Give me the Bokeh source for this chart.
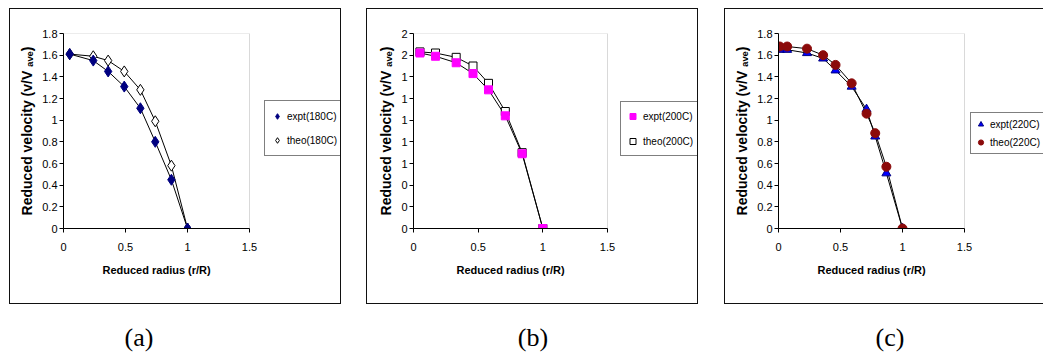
from bokeh.plotting import figure
from bokeh.models import (Legend, LegendItem, Range1d, FixedTicker, Spacer, Div,
                          BoxAnnotation, Title)
from bokeh.layouts import row, column
from bokeh.embed import file_html
from bokeh.resources import INLINE

# ---------------- data ----------------
x_ticks = [0, 0.5, 1, 1.5]
x_tick_labels = ["0", "0.5", "1", "1.5"]
y_ticks = [0, 0.2, 0.4, 0.6, 0.8, 1.0, 1.2, 1.4, 1.6, 1.8]
y_tick_labels_ac = ["0", "0.2", "0.4", "0.6", "0.8", "1", "1.2", "1.4", "1.6", "1.8"]
y_tick_labels_b = ["0", "0", "0", "1", "1", "1", "1", "1", "2", "2"]

# (a) 180C
a_x = [0.05, 0.24, 0.36, 0.49, 0.62, 0.74, 0.87, 1.0]
a_expt = [1.61, 1.55, 1.45, 1.31, 1.11, 0.80, 0.45, 0.0]
a_theo = [1.61, 1.59, 1.55, 1.45, 1.28, 0.99, 0.58, 0.0]

# (b) 200C
b_x = [0.05, 0.17, 0.33, 0.46, 0.58, 0.71, 0.84, 1.0]
b_expt = [1.62, 1.59, 1.53, 1.43, 1.28, 1.04, 0.69, 0.0]
b_theo = [1.63, 1.62, 1.58, 1.50, 1.34, 1.08, 0.70, 0.0]

# (c) 220C
c_x = [0.01, 0.07, 0.23, 0.36, 0.46, 0.59, 0.71, 0.78, 0.87, 1.0]
c_expt = [1.65, 1.65, 1.62, 1.57, 1.46, 1.31, 1.10, 0.85, 0.51, 0.0]
c_theo = [1.68, 1.68, 1.66, 1.60, 1.51, 1.34, 1.06, 0.88, 0.57, 0.0]

captions = ["(a)", "(b)", "(c)"]
x_label = "Reduced radius (r/R)"
y_label = "Reduced velocity (v/V \u2090\u1d65\u2091)"

FONT = "Liberation Sans"
X_MAX = x_ticks[-1]
Y_MAX = y_ticks[-1]


def make_panel(width, left, plot_w, y_labels, xlabel_offset):
    # the frame reaches the right edge of the panel so the legend can sit there;
    # the visible plot area (0..1.5) is plot_w pixels wide
    frame_w = width - left
    x_end = X_MAX * frame_w / plot_w
    p = figure(width=width, height=294, output_backend="svg", toolbar_location=None,
               x_range=Range1d(0, x_end), y_range=Range1d(0, Y_MAX),
               min_border_left=left, min_border_right=0,
               min_border_top=24, min_border_bottom=75,
               styles={"outline": "1.5px solid #111111"})
    p.grid.visible = False
    p.outline_line_color = None
    p.background_fill_color = "white"
    p.border_fill_color = "white"
    p.add_layout(BoxAnnotation(left=0, right=X_MAX, bottom=0, top=Y_MAX,
                               fill_alpha=0, line_color="#808080", line_width=1,
                               level="underlay"))
    xa = p.xaxis[0]
    ya = p.yaxis[0]
    xa.ticker = FixedTicker(ticks=x_ticks)
    xa.major_label_overrides = {t: l for t, l in zip(x_ticks, x_tick_labels)}
    xa.bounds = (0, X_MAX)
    ya.ticker = FixedTicker(ticks=y_ticks)
    ya.major_label_overrides = {t: l for t, l in zip(y_ticks, y_labels)}
    for ax in (xa, ya):
        ax.axis_line_color = "black"
        ax.axis_line_width = 1
        ax.major_tick_line_color = "black"
        ax.minor_tick_line_color = None
        ax.major_tick_out = 4
        ax.major_tick_in = 0
        ax.major_label_text_font = FONT
        ax.major_label_text_font_size = "11px"
        ax.major_label_text_color = "black"
        ax.axis_label_text_font = FONT
        ax.axis_label_text_font_style = "bold"
        ax.axis_label_text_color = "black"
    xa.major_label_standoff = 10
    ya.axis_label = y_label
    ya.axis_label_text_font_size = "14px"
    ya.major_label_standoff = 2
    ya.axis_label_standoff = 4
    # x-axis title centred under the 0..1.5 plot area
    p.add_layout(Title(text=x_label, align="left", offset=xlabel_offset,
                       text_font=FONT, text_font_size="11px", text_font_style="bold",
                       text_color="black", standoff=17), "below")
    return p


def style_legend(leg, gw, gh, lh, pad, sp, fs="10px"):
    leg.border_line_color = "black"
    leg.border_line_width = 1
    leg.background_fill_color = "white"
    leg.background_fill_alpha = 1
    leg.label_text_font = FONT
    leg.label_text_font_size = fs
    leg.label_text_color = "black"
    leg.glyph_width = gw
    leg.glyph_height = gh
    leg.label_height = lh
    leg.padding = pad
    leg.spacing = sp
    leg.margin = 0
    leg.label_standoff = 3


# ---------- panel (a) ----------
pa = make_panel(330, 53, 186, y_tick_labels_ac, 39)
pa.line(a_x, a_theo, line_color="black", line_width=1)
pa.line(a_x, a_expt, line_color="black", line_width=1)
ra_t = pa.scatter(a_x, a_theo, marker="diamond", size=11, fill_color="white", line_color="black")
ra_e = pa.scatter(a_x, a_expt, marker="diamond", size=11, fill_color="#000080", line_color="#000080")
leg_a = Legend(items=[LegendItem(label="expt(180C)", renderers=[ra_e]),
                      LegendItem(label="theo(180C)", renderers=[ra_t])],
               location=(201, 72))
style_legend(leg_a, 14, 20, 20, 5, 4)
pa.add_layout(leg_a)

# ---------- panel (b) ----------
pb = make_panel(330, 46, 194, y_tick_labels_b, 43)
pb.line(b_x, b_theo, line_color="black", line_width=1)
pb.line(b_x, b_expt, line_color="black", line_width=1)
rb_t = pb.scatter(b_x, b_theo, marker="square", size=8, fill_color="white", line_color="black")
rb_e = pb.scatter(b_x, b_expt, marker="square", size=8, fill_color="#FF00FF", line_color="#FF00FF")
leg_b = Legend(items=[LegendItem(label="expt(200C)", renderers=[rb_e]),
                      LegendItem(label="theo(200C)", renderers=[rb_t])],
               location=(207, 72))
style_legend(leg_b, 15, 20, 20, 4, 5)
pb.add_layout(leg_b)

# ---------- panel (c) ----------
pc = make_panel(318, 53, 186, y_tick_labels_ac, 39)
pc.line(c_x, c_expt, line_color="black", line_width=1)
pc.line(c_x, c_theo, line_color="black", line_width=1)
rc_e = pc.scatter(c_x, c_expt, marker="triangle", size=9, fill_color="#0000FF", line_color="#000080")
rc_t = pc.scatter(c_x, c_theo, marker="circle", size=9, fill_color="#8B0A0A", line_color="#8B0A0A")
leg_c = Legend(items=[LegendItem(label="expt(220C)", renderers=[rc_e]),
                      LegendItem(label="theo(220C)", renderers=[rc_t])],
               location=(192, 74))
style_legend(leg_c, 13, 16, 16, 3, 2)
pc.add_layout(leg_c)

# ---------- captions ----------
cap_style = {"font-family": "Liberation Serif", "font-size": "26px", "text-align": "center",
             "color": "black", "line-height": "30px"}
cap_a = Div(text=captions[0], width=278, height=32, margin=0, styles=cap_style)
cap_b = Div(text=captions[1], width=510, height=32, margin=0, styles=cap_style)
cap_c = Div(text=captions[2], width=204, height=32, margin=0, styles=cap_style)

top = row(Spacer(width=10, height=294), pa, Spacer(width=27, height=294), pb,
          Spacer(width=28, height=294), pc)
layout = column(Spacer(width=1043, height=9), top, Spacer(width=10, height=20),
                row(cap_a, cap_b, cap_c))

open("out.html", "w").write(file_html(layout, INLINE, title="velocity profiles"))
